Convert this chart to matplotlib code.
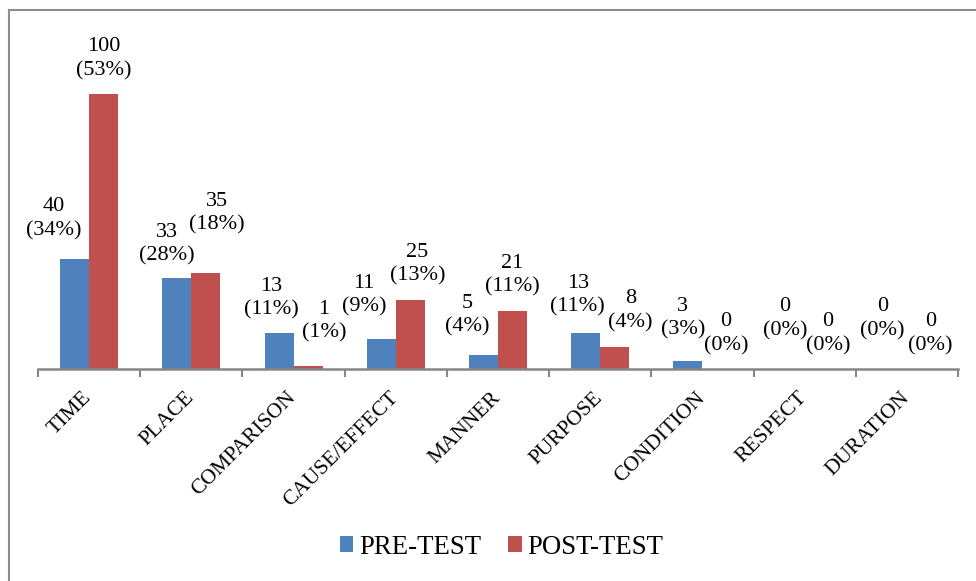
import matplotlib.pyplot as plt
from matplotlib.lines import Line2D
from matplotlib.transforms import ScaledTranslation
import numpy as np

# Dados
categorias = ["TIME", "PLACE", "COMPARISON", "CAUSE/EFFECT", "MANNER",
              "PURPOSE", "CONDITION", "RESPECT", "DURATION"]
pre_test = [40, 33, 13, 11, 5, 13, 3, 0, 0]
pre_pct = [34, 28, 11, 9, 4, 11, 3, 0, 0]
post_test = [100, 35, 1, 25, 21, 8, 0, 0, 0]
post_pct = [53, 18, 1, 13, 11, 4, 0, 0, 0]

# deslocamento dos rótulos (px) em relação ao topo da barra
desl_pre = [(-21, 19), (-10, 13), (-8, 14), (-17, 22), (-16, 19),
            (-8, 17), (-5, 21), (-5, 29), (-10, 29)]
desl_post = [(0, 14), (11, 38), (16, 24), (7, 15), (0, 15),
             (16, 15), (9, 14), (9, 14), (9, 14)]

plt.rcParams['font.family'] = ['Liberation Serif', 'DejaVu Serif']

azul = "#4F81BD"
vermelho = "#C0504D"
cinza = "#868686"

fig = plt.figure(figsize=(9.76, 5.81), dpi=100)
ax = fig.add_axes([38 / 976, 1 - 369 / 581, 920 / 976, 330 / 581])

x = np.arange(len(categorias))
w = 0.284
b1 = ax.bar(x - w / 2, pre_test, w, color=azul, label="PRE-TEST")
b2 = ax.bar(x + w / 2, post_test, w, color=vermelho, label="POST-TEST")

px = 0.72
for i in range(len(categorias)):
    ax.annotate(f"{pre_test[i]}\n({pre_pct[i]}%)", (x[i] - w / 2, pre_test[i]),
                xytext=(desl_pre[i][0] * px, desl_pre[i][1] * px),
                textcoords="offset points", ha="center", va="bottom",
                fontsize=16, linespacing=1.3)
    ax.annotate(f"{post_test[i]}\n({post_pct[i]}%)", (x[i] + w / 2, post_test[i]),
                xytext=(desl_post[i][0] * px, desl_post[i][1] * px),
                textcoords="offset points", ha="center", va="bottom",
                fontsize=16, linespacing=1.3)

ax.set_xlim(-0.5, len(categorias) - 0.5)
ax.set_ylim(0, 120)

for s in ["top", "right", "left"]:
    ax.spines[s].set_visible(False)
ax.spines["bottom"].set_color(cinza)
ax.spines["bottom"].set_linewidth(1.8)
ax.set_yticks([])

# rótulos no centro, marcas nas divisões
ax.set_xticks(x)
ax.set_xticklabels(categorias, rotation=45, ha="right", fontsize=15.5,
                   rotation_mode="anchor")
ax.tick_params(axis="x", which="major", length=0, pad=14)
ax.set_xticks(np.arange(-0.5, len(categorias)), minor=True)
ax.tick_params(axis="x", which="minor", length=6, width=1.5, color=cinza)
desloc = ScaledTranslation(-7 / 100, 0, fig.dpi_scale_trans)
for lbl in ax.get_xticklabels():
    lbl.set_transform(lbl.get_transform() + desloc)

fig.legend(handles=[b1, b2], loc="center", bbox_to_anchor=(0.514, 1 - 547 / 581),
           ncol=2, frameon=False, fontsize=19.3, handlelength=0.5, handleheight=0.5,
           handletextpad=0.22, columnspacing=1.0)

# moldura
fig.add_artist(Line2D([9 / 976, 9 / 976], [0, 1 - 10 / 581], color="#8c8c8c", lw=1.5))
fig.add_artist(Line2D([9 / 976, 1], [1 - 10 / 581, 1 - 10 / 581], color="#8c8c8c", lw=1.5))

fig.savefig("out.png", dpi=100)
